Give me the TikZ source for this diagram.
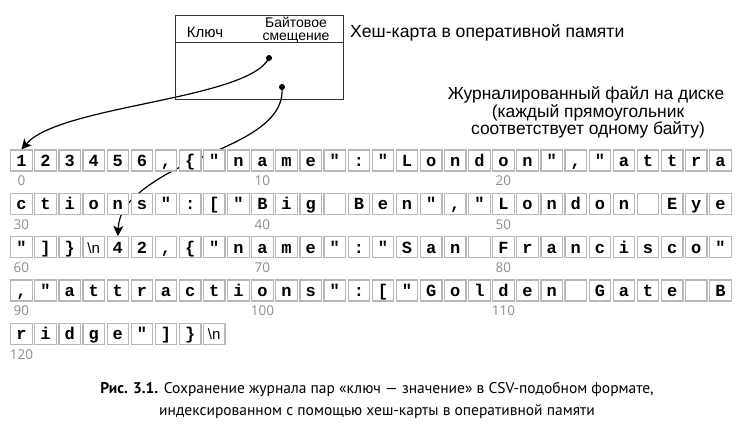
\documentclass[tikz,border=0pt]{standalone}
\usepackage{fontspec}
\setmainfont{Liberation Sans}
\newfontfamily\cellfont{Liberation Mono}[Ligatures=TeXOff]
\newfontfamily\labfont{Open Sans}
\newfontfamily\capfont{PT Sans}
\usetikzlibrary{arrows.meta}
\pgfdeclarelayer{back}
\pgfsetlayers{back,main}
\newcommand\nl{{\fontsize{15}{15}\selectfont\mdseries\rmfamily\textbackslash n}}
\tikzset{
  cell/.style={draw=black!28, line width=1.2pt, fill=white, minimum width=21.5pt,
    minimum height=21pt, inner sep=0pt, text height=14pt, text depth=2pt,
    font=\cellfont\bfseries\fontsize{17}{17}\selectfont},
  idxlab/.style={font=\labfont\fontsize{13.5}{13.5}\selectfont, text=black!45, inner sep=0pt},
  conn/.style={line width=1.2pt, -{Stealth[length=10pt,width=10pt,inset=2.5pt]}},
  dot/.style={circle, fill, inner sep=0pt, minimum size=6pt},
  hmbox/.style={draw=black!80, line width=0.8pt, minimum width=168pt, inner sep=0pt},
  hmtext/.style={font=\fontsize{14.5}{14.5}\selectfont, inner sep=0pt, anchor=base},
  jtext/.style={font=\fontsize{17.4}{17.4}\selectfont, inner sep=0pt, anchor=base},
  captext/.style={font=\capfont\fontsize{15.5}{15.5}\selectfont, inner sep=0pt, anchor=base},
}
\newcommand\cellrow[2]{%
  \foreach \cc [count=\i from 0] in {#2}{%
    \pgfmathtruncatemacro\idx{#1*30+\i}%
    \node[cell] (c\idx) at ({21.45+\i*24.1},{160.5+#1*43.3}) {\cc};}}
\begin{document}
\begin{tikzpicture}[x=1pt,y=-1pt]
\useasboundingbox (0,0) rectangle (745,434);
% hash map
\node[hmbox, minimum height=27pt] (hmh) at (259,28.5) {};
\node[hmbox, minimum height=57pt, anchor=north] (hmb) at (hmh.south) {};
\node[hmtext, font=\fontsize{15}{15}\selectfont] (hk) at (205,37.5) {Ключ};
\node[font=\fontsize{14}{13.8}\selectfont, inner sep=0pt, anchor=north, align=center] (ho) at (296,16.5) {Байтовое\\смещение};
\node[font=\fontsize{17.6}{17.6}\selectfont, inner sep=0pt, anchor=base west] (hmt) at (350,37) {Хеш-карта в оперативной памяти};
\node[dot] (d1) at (269,58) {};
\node[dot] (d2) at (282,87) {};
% journal caption
\node[jtext] (j1) at (586,99) {Журналированный файл на диске};
\node[jtext] (j2) at (588,117) {(каждый прямоугольник};
\node[jtext] (j3) at (588,134) {соответствует одному байту)};
% cells
\cellrow{0}{1,2,3,4,5,6,{,},\{,",n,a,m,e,",:,",L,o,n,d,o,n,",{,},",a,t,t,r,a}
\cellrow{1}{c,t,i,o,n,s,",:,[,",B,i,g,{},B,e,n,",{,},",L,o,n,d,o,n,{},E,y,e}
\cellrow{2}{",],\},\nl,4,2,{,},\{,",n,a,m,e,",:,",S,a,n,{},F,r,a,n,c,i,s,c,o,"}
\cellrow{3}{{,},",a,t,t,r,a,c,t,i,o,n,s,",:,[,",G,o,l,d,e,n,{},G,a,t,e,{},B}
\cellrow{4}{r,i,d,g,e,",],\},\nl}
\foreach \n in {0,10,20,30,40,50,60,70,80,90,100,110,120}
  \node[idxlab] (l\n) at ([yshift=-9.5pt]c\n.south) {\n};
% connectors
\begin{pgfonlayer}{back}
\draw[conn] (d1.center) .. controls (248,100) and (60,105) .. (c0.north);
\draw[line width=1.2pt] (d2.center) .. controls (286,135) and (205,150) .. (160,178) coordinate (m2);
\draw[conn] (m2) .. controls (128,198) and (119,212) .. (c64.north);
\end{pgfonlayer}
% figure caption
\node[captext] (cap1) at (377,393) {\textbf{Рис. 3.1.} Сохранение журнала пар «ключ — значение» в CSV-подобном формате,};
\node[captext] (cap2) at (377,415) {индексированном с помощью хеш-карты в оперативной памяти};
\end{tikzpicture}
\end{document}
